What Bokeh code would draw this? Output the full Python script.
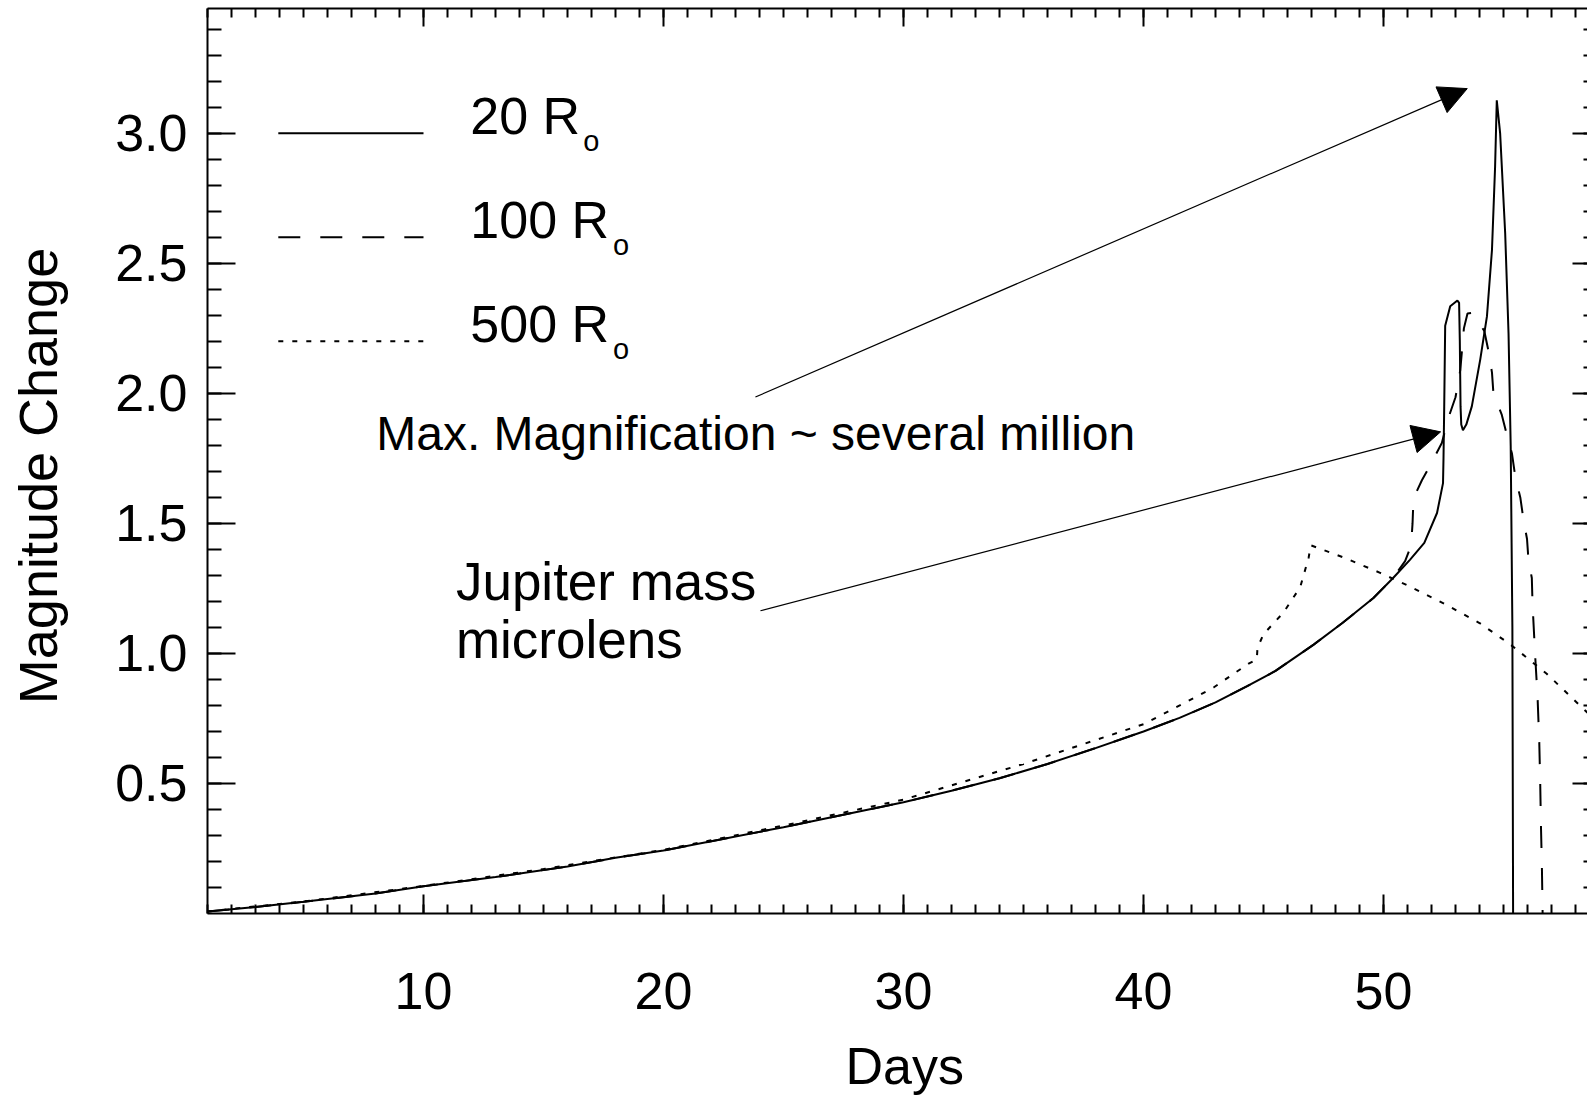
from bokeh.plotting import figure
from bokeh.models import (Range1d, FixedTicker, LinearAxis, PrintfTickFormatter,
                          Arrow, NormalHead, Label)
from bokeh.embed import file_html
from bokeh.resources import INLINE

FONT = "Liberation Sans"

# ---- light curves: magnitude change vs. days, three source radii ----
days_20 = [1, 3, 5, 8, 10, 13, 16, 18, 20, 25, 30, 32, 34, 36, 38, 40, 41.5, 43,
           44.3, 45.5, 47.09, 48.3, 49.58, 50.4, 51.1, 51.7, 52.23, 52.48, 52.5,
           52.53, 52.57, 52.78, 53.08, 53.15, 53.18, 53.21, 53.24, 53.31, 53.45,
           53.68, 54.03, 54.31, 54.52, 54.65, 54.72, 54.86, 55.07, 55.21, 55.3,
           55.37, 55.4]
mag_20 = [0.008, 0.025, 0.045, 0.077, 0.105, 0.14, 0.181, 0.214, 0.242, 0.332, 0.428,
          0.472, 0.52, 0.575, 0.636, 0.70, 0.752, 0.812, 0.873, 0.933, 1.034, 1.118,
          1.213, 1.29, 1.36, 1.425, 1.54, 1.655, 1.75, 1.95, 2.26, 2.335, 2.357,
          2.348, 2.2, 1.95, 1.88, 1.858, 1.88, 1.95, 2.13, 2.296, 2.552, 2.872,
          3.127, 3.0, 2.616, 2.23, 1.797, 1.10, 0.0]

days_100 = [1, 3, 5, 8, 10, 13, 16, 18, 20, 25, 30, 32, 34, 36, 38, 40, 41.5, 43,
            44.3, 45.5, 47.09, 48.3, 49.58, 50.4, 50.9, 51.15, 51.21, 51.25, 51.6,
            52.02, 52.43, 52.7, 53.0, 53.2, 53.35, 53.5, 53.72, 54.2, 54.38, 54.52,
            54.58, 54.93, 55.14, 55.35, 55.49, 55.7, 55.83, 55.98, 56.04, 56.18,
            56.21, 56.32, 56.42, 56.49, 56.53, 56.56, 56.6, 56.63]
mag_100 = [0.008, 0.025, 0.045, 0.077, 0.105, 0.14, 0.181, 0.214, 0.242, 0.332, 0.428,
           0.472, 0.52, 0.575, 0.636, 0.70, 0.752, 0.812, 0.873, 0.933, 1.034, 1.118,
           1.213, 1.29, 1.355, 1.415, 1.50, 1.597, 1.666, 1.736, 1.809, 1.905, 1.985,
           2.09, 2.25, 2.307, 2.31, 2.24, 2.16, 2.08, 2.0, 1.917, 1.84, 1.77, 1.68,
           1.60, 1.516, 1.44, 1.36, 1.29, 1.19, 0.99, 0.83, 0.66, 0.50, 0.34, 0.18,
           0.0]

days_500 = [1, 5, 10, 15, 20, 25, 30, 35, 40, 41.74, 42.92, 44.38, 44.72, 44.75, 45.0,
            45.83, 46.53, 46.88, 46.97, 48.4, 49.86, 50.97, 52.57, 54.0, 55.28, 56.8,
            58.5]
mag_500 = [0.008, 0.046, 0.106, 0.171, 0.245, 0.338, 0.438, 0.575, 0.728, 0.811, 0.869,
           0.961, 0.977, 1.022, 1.074, 1.157, 1.255, 1.368, 1.416, 1.367, 1.31, 1.263,
           1.189, 1.117, 1.035, 0.922, 0.772]

x_major = [10, 20, 30, 40, 50]
x_minor = list(range(1, 59))
y_major = [0.5, 1.0, 1.5, 2.0, 2.5, 3.0]
y_minor = [round(0.1 * i, 1) for i in range(1, 35)]

legend_labels = ["20 R", "100 R", "500 R"]
legend_sub = "o"
legend_dash = ["solid", "22 20", "5 9"]

Y_START, Y_END = 0.0, 3.48
FRAME_H = 905
PX = FRAME_H / (Y_END - Y_START)   # screen pixels per magnitude unit


def cap_mid(baseline, size):
    """Anchor for a Label so that its baseline sits at `baseline` (data units)."""
    return baseline + 0.36 * size / PX


p = figure(width=1587, height=1098, output_backend="svg", toolbar_location=None,
           x_range=Range1d(1, 58.5), y_range=Range1d(Y_START, Y_END),
           min_border_left=207, min_border_right=0, min_border_top=8,
           min_border_bottom=185, background_fill_color="white",
           border_fill_color="white")
p.outline_line_color = None
p.xgrid.grid_line_color = None
p.ygrid.grid_line_color = None

xt = FixedTicker(ticks=x_major, minor_ticks=x_minor)
yt = FixedTicker(ticks=y_major, minor_ticks=y_minor)


def style(ax, major_in, minor_in):
    ax.axis_line_width = 2
    ax.axis_line_color = "black"
    ax.major_tick_in = major_in
    ax.major_tick_out = 0
    ax.minor_tick_in = minor_in
    ax.minor_tick_out = 0
    ax.major_tick_line_width = 2
    ax.minor_tick_line_width = 2
    ax.major_tick_line_color = "black"
    ax.minor_tick_line_color = "black"
    ax.major_label_text_font = FONT
    ax.major_label_text_color = "black"
    ax.axis_label_text_font = FONT
    ax.axis_label_text_font_style = "normal"
    ax.axis_label_text_color = "black"


def unlabelled(ax, ticks):
    ax.major_label_overrides = {t: "" for t in ticks}
    ax.major_label_text_font_size = "1px"
    ax.major_label_standoff = 0


xb = p.xaxis[0]
xb.ticker = xt
style(xb, 19, 9)
xb.major_label_text_font_size = "52px"
xb.major_label_standoff = 59
xb.axis_label = "\u00a0Days"
xb.axis_label_text_font_size = "52px"
xb.axis_label_standoff = 25

yl = p.yaxis[0]
yl.ticker = yt
yl.formatter = PrintfTickFormatter(format="%.1f")
style(yl, 28, 14)
yl.major_label_text_font_size = "52px"
yl.major_label_standoff = 20
yl.axis_label = "Magnitude Change\u00a0\u00a0"
yl.axis_label_text_font_size = "54px"
yl.axis_label_standoff = 44

top = LinearAxis(ticker=xt)
style(top, 18, 9)
unlabelled(top, x_major)
p.add_layout(top, "above")

right = LinearAxis(ticker=yt)
style(right, 15, 4)
right.axis_line_color = None
unlabelled(right, y_major)
p.add_layout(right, "right")

# curves
p.line(days_20, mag_20, line_color="black", line_width=2)
p.line(days_100, mag_100, line_color="black", line_width=2, line_dash="22 20")
p.line(days_500, mag_500, line_color="black", line_width=2, line_dash="5 9")

# key in the upper left
key_y = [3.0, 2.6, 2.2]
key_sub_x = [16.66, 17.9, 17.9]
for lab, dash, ky, sx in zip(legend_labels, legend_dash, key_y, key_sub_x):
    p.line([3.95, 10.0], [ky, ky], line_color="black", line_width=2, line_dash=dash)
    p.add_layout(Label(x=11.95, y=cap_mid(ky - 0.005, 52), text=lab, text_font=FONT,
                       text_font_size="52px", text_baseline="alphabetic",
                       text_align="left", text_color="black"))
    p.add_layout(Label(x=sx, y=cap_mid(ky - 0.068, 29), text=legend_sub,
                       text_font=FONT, text_font_size="29px",
                       text_baseline="alphabetic", text_align="left",
                       text_color="black"))

# annotations
p.add_layout(Label(x=8.03, y=cap_mid(1.781, 48),
                   text="Max. Magnification ~ several million",
                   text_font=FONT, text_font_size="48px", text_baseline="alphabetic",
                   text_color="black"))
p.add_layout(Label(x=11.35, y=cap_mid(1.205, 53), text="Jupiter mass", text_font=FONT,
                   text_font_size="53px", text_baseline="alphabetic", text_color="black"))
p.add_layout(Label(x=11.35, y=cap_mid(0.98, 53), text="microlens", text_font=FONT,
                   text_font_size="53px", text_baseline="alphabetic", text_color="black"))

p.add_layout(Arrow(end=NormalHead(size=28, fill_color="black", line_color="black",
                                  line_width=1),
                   x_start=23.83, y_start=1.986, x_end=53.49, y_end=3.172,
                   line_color="black", line_width=1.2))
p.add_layout(Arrow(end=NormalHead(size=28, fill_color="black", line_color="black",
                                  line_width=1),
                   x_start=24.04, y_start=1.164, x_end=52.38, y_end=1.852,
                   line_color="black", line_width=1.2))

open("out.html", "w").write(file_html(p, INLINE))
